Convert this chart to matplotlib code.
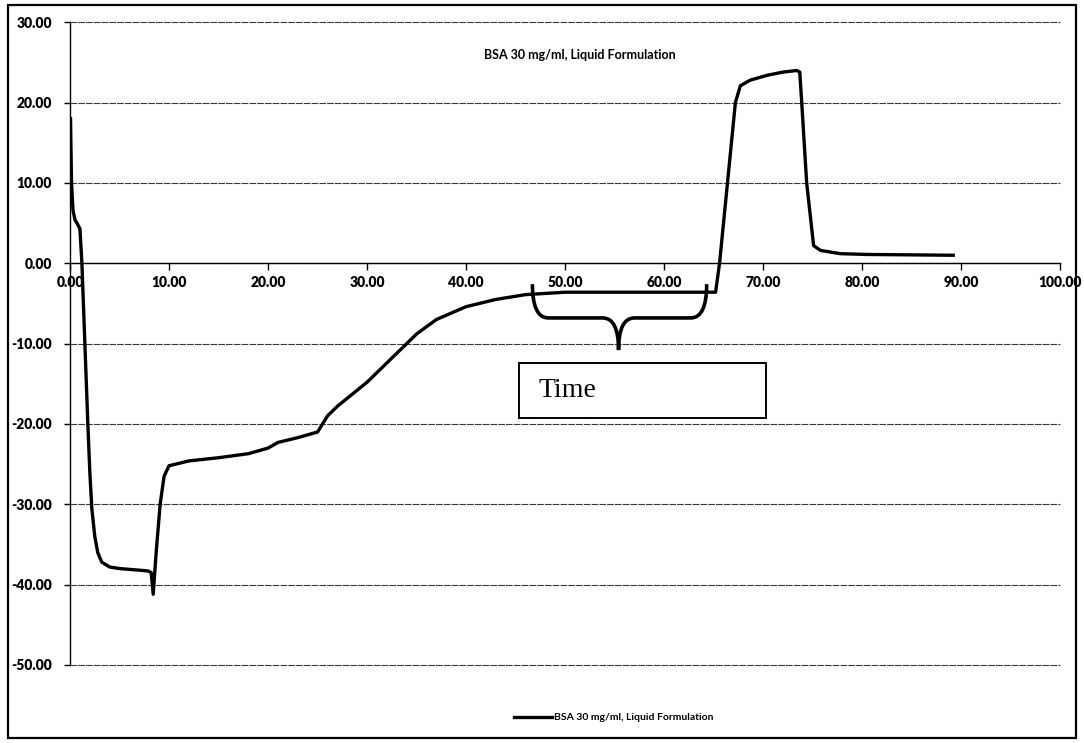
"""Excel-style line chart: BSA 30 mg/ml, liquid formulation trace."""
import matplotlib

matplotlib.use("Agg")
import matplotlib.pyplot as plt  # noqa: E402
from matplotlib.patches import PathPatch, Rectangle  # noqa: E402
from matplotlib.path import Path  # noqa: E402

plt.rcParams["axes.unicode_minus"] = False

SERIES_LABEL = "BSA 30 mg/ml, Liquid Formulation"

time = [0.05, 0.15, 0.3, 0.5, 0.7, 1.0, 1.2, 1.5, 1.8, 2.0, 2.2, 2.5, 2.8,
        3.2, 4.0, 5.0, 6.0, 7.0, 7.9, 8.2, 8.4, 8.7, 9.1, 9.5, 10.0, 12.0,
        15.0, 18.0, 20.0, 21.0, 23.0, 25.0, 26.0, 27.0, 30.0, 33.0, 35.0,
        37.0, 40.0, 43.0, 46.0, 50.0, 55.0, 60.0, 65.2, 65.6, 66.4, 67.2,
        67.7, 68.7, 70.4, 72.0, 73.4, 73.7, 73.9, 74.4, 75.1, 75.8, 77.8,
        80.5, 85.0, 89.2]
signal = [18.0, 10.0, 6.6, 5.4, 5.0, 4.3, 0.0, -10.0, -20.0, -26.0, -30.5,
          -34.0, -36.0, -37.2, -37.8, -38.0, -38.1, -38.2, -38.3, -38.5,
          -41.2, -36.0, -30.0, -26.5, -25.2, -24.6, -24.2, -23.7, -23.0,
          -22.3, -21.7, -21.0, -19.0, -17.8, -14.8, -11.2, -8.8, -7.0, -5.4,
          -4.5, -3.9, -3.6, -3.6, -3.6, -3.6, 0.0, 10.0, 20.0, 22.1, 22.8,
          23.4, 23.8, 24.0, 23.8, 20.0, 10.0, 2.2, 1.6, 1.2, 1.1, 1.05, 1.0]

y_ticks = [30, 20, 10, 0, -10, -20, -30, -40, -50]
x_ticks = [0, 10, 20, 30, 40, 50, 60, 70, 80, 90, 100]

# brace under the plateau, and the "Time" call-out box (data coords)
brace_left, brace_right, brace_mid = 46.7, 64.3, 55.4
brace_top, brace_bar, brace_tip = -2.6, -6.8, -10.8
box_x, box_y, box_w, box_h = 45.3, -19.2, 25.0, 6.8

LABEL_FONT = ["Lato", "DejaVu Sans"]

fig = plt.figure(figsize=(10.84, 7.43), dpi=100, facecolor="white")
ax = fig.add_axes([0.0646, 0.105, 0.9134, 0.865])

ax.plot(time, signal, color="black", linewidth=2.4, label=SERIES_LABEL,
        solid_joinstyle="round", zorder=3)

ax.set_xlim(0, 100)
ax.set_ylim(-50, 30)
ax.set_xticks(x_ticks)
ax.set_yticks(y_ticks)
ax.set_xticklabels([f"{v:.2f}" for v in x_ticks])
ax.set_yticklabels([f"{v:.2f}" for v in y_ticks])

for y in y_ticks:
    ax.axhline(y, color="#3a3a3a", linewidth=0.8, linestyle=(0, (6, 1)),
               zorder=1, clip_on=False)

ax.spines["bottom"].set_position(("data", 0))
ax.spines["top"].set_visible(False)
ax.spines["right"].set_visible(False)
ax.spines["left"].set_linewidth(1.0)
ax.spines["bottom"].set_linewidth(1.0)
ax.tick_params(axis="x", direction="out", length=5, width=1, pad=4,
               labelsize=10)
ax.tick_params(axis="y", direction="out", length=4, width=1, pad=9,
               labelsize=10)
for lbl in ax.get_xticklabels() + ax.get_yticklabels():
    lbl.set_fontfamily(LABEL_FONT)
    lbl.set_fontweight("heavy")

ax.text(51.5, 25.9, SERIES_LABEL, ha="center", va="center", fontsize=9,
        fontweight="bold", family=LABEL_FONT)

# curly brace
verts = [
    (brace_left, brace_top), (brace_left, brace_bar), (brace_left + 1.6, brace_bar),
    (brace_mid - 1.6, brace_bar),
    (brace_mid, brace_bar), (brace_mid, brace_tip),
    (brace_mid, brace_bar), (brace_mid + 1.6, brace_bar),
    (brace_right - 1.6, brace_bar),
    (brace_right, brace_bar), (brace_right, brace_top),
]
codes = [Path.MOVETO, Path.CURVE3, Path.CURVE3, Path.LINETO,
         Path.CURVE3, Path.CURVE3, Path.CURVE3, Path.CURVE3, Path.LINETO,
         Path.CURVE3, Path.CURVE3]
ax.add_patch(PathPatch(Path(verts, codes), facecolor="none",
                       edgecolor="black", linewidth=2.6, zorder=4))

ax.add_patch(Rectangle((box_x, box_y), box_w, box_h, facecolor="white",
                       edgecolor="black", linewidth=1.4, zorder=5))
ax.text(box_x + 2.0, box_y + box_h / 2, "Time", ha="left", va="center",
        fontsize=20, family="Liberation Serif", zorder=6)

fig.legend(loc="center", bbox_to_anchor=(0.566, 0.034), frameon=False,
           prop={"family": LABEL_FONT, "weight": "bold", "size": 7.5},
           handlelength=3.6, handletextpad=0.2)

fig.patches.append(Rectangle((0.0074, 0.0067), 0.985, 0.987,
                             transform=fig.transFigure, facecolor="none",
                             edgecolor="black", linewidth=1.6))

fig.savefig("out.png", dpi=100, facecolor="white")
